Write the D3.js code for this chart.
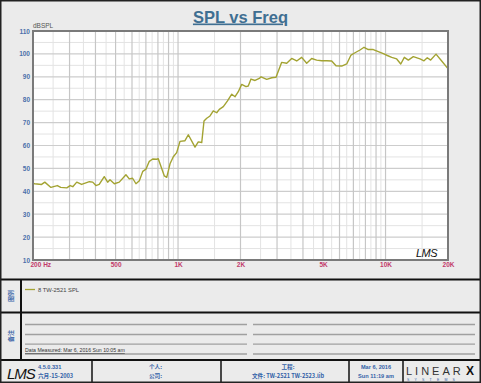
<!DOCTYPE html>
<html><head><meta charset="utf-8">
<script src="https://cdn.jsdelivr.net/npm/d3@7"></script>
<style>
html,body{margin:0;padding:0;background:#ebebeb;}
svg{display:block;}
text{font-family:"Liberation Sans",Arial,sans-serif;}
.cjk{font-family:"Noto Sans CJK SC","Liberation Sans",sans-serif;}
</style></head><body>
<svg id="c" width="481" height="383"></svg>
<script>
// ---- data ----
const freqs = [200,204,220,228,244,262,272,291,302,311,325,343,374,388,402,417,441,458,470,493,521,561,582,604,627,651,676,701,727,755,789,803,859,882,915,949,985,1022,1080,1121,1207,1252,1301,1334,1375,1426,1479,1536,1581,1653,1728,1815,1883,1952,2027,2125,2180,2247,2350,2464,2512,2675,2829,2966,3159,3340,3530,3732,3944,4169,4406,4658,4923,5205,5502,5771,6149,6500,6818,7127,7534,7877,8259,8730,9229,9757,10200,10710,11320,11840,12320,12880,13610,14660,15320,15890,16500,17510,18650,19940];
const spl = [43.4,43.3,43.0,44.0,41.7,42.5,41.7,41.5,42.5,42.0,44.0,43.0,44.2,44.0,42.5,43.0,46.4,44.0,45.0,43.3,44.0,47.2,45.4,45.7,43.3,44.6,48.7,49.7,53.1,54.1,54.0,54.2,46.7,46.1,52.0,55.1,56.9,61.8,62.1,64.7,59.3,61.6,61.3,70.7,71.9,72.9,75.1,74.3,75.8,77.0,79.4,82.4,81.3,83.5,86.7,85.7,86.0,89.0,88.4,89.3,90.0,88.9,89.6,89.8,96.3,95.9,98.0,96.9,98.5,95.9,98.0,97.3,97.0,97.0,96.9,94.8,94.7,95.6,99.5,100.5,101.7,102.9,101.9,101.9,101.0,100.1,99.3,98.5,97.8,95.6,98.5,97.3,98.8,97.8,97.0,98.3,97.3,99.9,96.9,93.7];
const yTicks = [10,20,30,40,50,60,70,80,90,100,110];
const xTickVals = [200,500,1000,2000,5000,10000,20000];
const xTickLabels = ["200  Hz","500","1K","2K","5K","10K","20K"];
const seriesName = "8  TW-2521  SPL";
const title = "SPL vs Freq";

// ---- layout ----
const svg = d3.select("#c");
const L=33, R=448, T=31, B=260;
const x = d3.scaleLog().domain([200,20000]).range([L,R]);
const y = d3.scaleLinear().domain([10,110]).range([B,T]);

svg.append("rect").attr("x",0).attr("y",0).attr("width",481).attr("height",383).attr("fill","#ebebeb");

// title
svg.append("text").attr("x",240.5).attr("y",22.5).attr("text-anchor","middle")
  .attr("font-size",16.5).attr("font-weight","bold").attr("fill","#3f6f92")
  .attr("text-decoration","underline").text(title);

// plot background
svg.append("rect").attr("x",L).attr("y",T).attr("width",R-L).attr("height",B-T).attr("fill","#fff");

// grid lines
const gridMinor=[], gridMajor=[];
[100,1000,10000].forEach(d=>{
  for(let k=1;k<=9.5;k+=0.5){
    const f=k*d;
    if(f<=200||f>=20000) continue;
    (Number.isInteger(k)?gridMajor:gridMinor).push(f);
  }
});
const g = svg.append("g");
g.selectAll(".vm").data(gridMinor).join("line")
  .attr("x1",d=>x(d)).attr("x2",d=>x(d)).attr("y1",T).attr("y2",B)
  .attr("stroke","#e3e3e3").attr("stroke-width",1);
const hMinor = d3.range(15,110,10), hMajor = d3.range(20,110,10);
g.selectAll(".hm").data(hMinor).join("line")
  .attr("x1",L).attr("x2",R).attr("y1",d=>y(d)).attr("y2",d=>y(d))
  .attr("stroke","#e3e3e3").attr("stroke-width",1);
g.selectAll(".hM").data(hMajor).join("line")
  .attr("x1",L).attr("x2",R).attr("y1",d=>y(d)).attr("y2",d=>y(d))
  .attr("stroke","#cdcdcd").attr("stroke-width",1.2);
g.selectAll(".vM").data(gridMajor).join("line")
  .attr("x1",d=>x(d)).attr("x2",d=>x(d)).attr("y1",T).attr("y2",B)
  .attr("stroke","#c6c6c6").attr("stroke-width",1.2);

// curve
const line = d3.line().x((d,i)=>x(freqs[i])).y(d=>y(d));
svg.append("path").datum(spl).attr("d",line).attr("fill","none")
  .attr("stroke","#a3a332").attr("stroke-width",1.4).attr("stroke-linejoin","round");

// frame
svg.append("rect").attr("x",L).attr("y",T).attr("width",R-L).attr("height",B-T)
  .attr("fill","none").attr("stroke","#7a7a7a").attr("stroke-width",2);

// axes
const yAxis = svg.append("g").attr("transform",`translate(${L},0)`)
  .call(d3.axisLeft(y).tickValues(yTicks).tickSize(0).tickPadding(3));
yAxis.select(".domain").remove();
yAxis.selectAll("text").attr("font-size",6.5).attr("font-weight","bold").attr("fill","#4b70aa")
  .attr("font-family","Liberation Sans, Arial, sans-serif");
const xAxis = svg.append("g").attr("transform",`translate(0,${B})`)
  .call(d3.axisBottom(x).tickValues(xTickVals).tickFormat((d,i)=>xTickLabels[i]).tickSize(0).tickPadding(3.5));
xAxis.select(".domain").remove();
xAxis.selectAll("text").attr("font-size",6.5).attr("font-weight","bold").attr("fill","#c23a6a")
  .attr("font-family","Liberation Sans, Arial, sans-serif").attr("dy","0.6em")
  .attr("text-anchor",(d,i)=>i===0?"start":"middle")
  .attr("dx",(d,i)=>i===0?-3:0);

svg.append("text").attr("x",L).attr("y",T-3).attr("font-size",6.5).attr("fill","#555").text("dBSPL");

// LMS plot logo
svg.append("text").attr("x",437).attr("y",257).attr("text-anchor","end").attr("font-size",11)
  .attr("font-style","italic").attr("fill","#111").attr("font-family","DejaVu Sans, sans-serif")
  .attr("letter-spacing",-0.5).text("LMS");

// ---- bottom panels ----
const dark="#111";
function hl(x1,x2,yy,w,c){svg.append("line").attr("x1",x1).attr("x2",x2).attr("y1",yy).attr("y2",yy).attr("stroke",c||dark).attr("stroke-width",w||2);}
function vl(xx,y1,y2,w,c){svg.append("line").attr("x1",xx).attr("x2",xx).attr("y1",y1).attr("y2",y2).attr("stroke",c||dark).attr("stroke-width",w||2);}
hl(0,481,279.5,2);
hl(0,481,312.5,2);
hl(0,481,360,2);
vl(21,279.5,360,2);
vl(92,360,383,1.5);vl(221,360,383,1.5);vl(349,360,383,1.5);vl(403,360,383,1.5);

// vertical panel labels
svg.append("text").attr("class","cjk").attr("transform","translate(13,296) rotate(-90)")
  .attr("text-anchor","middle").attr("font-size",6).attr("font-weight","bold").attr("fill","#3b66a8").text("图例");
svg.append("text").attr("class","cjk").attr("transform","translate(13,336) rotate(-90)")
  .attr("text-anchor","middle").attr("font-size",6).attr("font-weight","bold").attr("fill","#3b66a8").text("备注");

// legend
svg.append("line").attr("x1",25).attr("x2",35).attr("y1",289.5).attr("y2",289.5).attr("stroke","#a3a332").attr("stroke-width",1.3);
svg.append("text").attr("x",38).attr("y",291.5).attr("font-size",5.8).attr("fill","#444").text(seriesName);

// notes lines
[324.5,334.5,344.2,354].forEach(yy=>{
  hl(25,247,yy,1.3,"#a0a0a0"); hl(253,475,yy,1.3,"#a0a0a0");
});
svg.append("text").attr("x",25).attr("y",352.3).attr("font-size",5.2).attr("fill","#333")
  .attr("text-decoration","underline").text("Data Measured: Mar  6, 2016  Sun 10:05 am");

// footer
svg.append("text").attr("x",7).attr("y",379).attr("font-size",15).attr("font-style","italic")
  .attr("fill","#111").attr("font-family","DejaVu Sans, sans-serif").attr("letter-spacing",-1).text("LMS");
const blue="#3362a8";
function ft(t,xx,yy,anchor,cls){svg.append("text").attr("class",cls||null).attr("x",xx).attr("y",yy).attr("font-size",5.6).attr("font-weight","bold").attr("fill",blue).attr("text-anchor",anchor||"start").text(t);}
ft("4.5.0.331",38,368.5);
ft("六月-15-2003",38,377.5,"start","cjk");
ft("个人:",149,368.5,"start","cjk");
ft("公司:",149,377.5,"start","cjk");
ft("工程:",288,368.5,"middle","cjk");
ft("文件: TW-2521  TW-2523.lib",288,377.5,"middle","cjk");
ft("Mar  6, 2016",376,368.5,"middle");
ft("Sun 11:19 am",376,377.5,"middle");
svg.append("text").attr("x",406).attr("y",375).attr("font-size",11).attr("fill","#333")
  .attr("font-family","Liberation Serif, serif").attr("letter-spacing",3).text("LINEAR");
svg.append("text").attr("x",466).attr("y",375).attr("font-size",12).attr("font-weight","bold").attr("fill","#111")
  .attr("font-family","Liberation Sans, sans-serif").text("X");
svg.append("text").attr("x",407).attr("y",381).attr("font-size",3.5).attr("fill",blue).attr("letter-spacing",5.2).text("SYSTEMS");

// outer border
svg.append("rect").attr("x",0.75).attr("y",0.75).attr("width",479.5).attr("height",381.5)
  .attr("fill","none").attr("stroke","#222").attr("stroke-width",1.5);
</script>
</body></html>
